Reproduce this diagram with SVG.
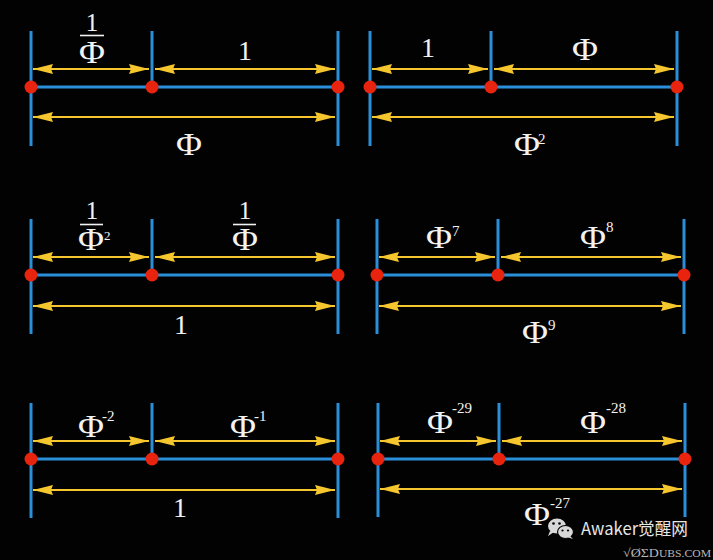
<svg xmlns="http://www.w3.org/2000/svg" width="713" height="560" viewBox="0 0 713 560">
<defs>
<style>
.v{stroke:#2a8fd8;stroke-width:3;fill:none}
.h{stroke:#2a8fd8;stroke-width:3;fill:none}
.d{fill:#e8240f}
.a{stroke:#f6c62e;stroke-width:2;fill:none;marker-start:url(#ah);marker-end:url(#ah)}
.t{font-family:"Liberation Serif","DejaVu Serif",serif;font-size:28px;fill:#f2f2f2}
.p{font-family:"Liberation Serif","DejaVu Serif",serif;font-size:31px;fill:#f2f2f2}
.f{font-family:"Liberation Serif","DejaVu Serif",serif;font-size:25px;fill:#f2f2f2}
.s{font-family:"Liberation Serif","DejaVu Serif",serif;font-size:15px;fill:#f2f2f2}
.bar{stroke:#f2f2f2;stroke-width:1.6}
</style>
<marker id="ah" viewBox="0 0 20 10" refX="20" refY="5" markerWidth="20" markerHeight="10" markerUnits="userSpaceOnUse" orient="auto-start-reverse">
<path d="M0,0 L20,5 L0,10 L2,5 z" fill="#f6c62e"/>
</marker>
</defs>
<rect width="713" height="560" fill="#020202"/>

<g id="connectors">
<line class="a" x1="33" y1="69" x2="149" y2="69"/>
<line class="a" x1="155" y1="69" x2="335" y2="69"/>
<line class="a" x1="33" y1="117" x2="335" y2="117"/>
<line class="a" x1="372" y1="69" x2="488" y2="69"/>
<line class="a" x1="494" y1="69" x2="674" y2="69"/>
<line class="a" x1="372" y1="117" x2="674" y2="117"/>
<line class="a" x1="33" y1="257" x2="149" y2="257"/>
<line class="a" x1="155" y1="257" x2="335" y2="257"/>
<line class="a" x1="33" y1="306" x2="335" y2="306"/>
<line class="a" x1="379" y1="257" x2="495" y2="257"/>
<line class="a" x1="501" y1="257" x2="681" y2="257"/>
<line class="a" x1="379" y1="306" x2="681" y2="306"/>
<line class="a" x1="33" y1="441" x2="149" y2="441"/>
<line class="a" x1="155" y1="441" x2="335" y2="441"/>
<line class="a" x1="33" y1="490" x2="335" y2="490"/>
<line class="a" x1="380" y1="441" x2="496" y2="441"/>
<line class="a" x1="502" y1="441" x2="682" y2="441"/>
<line class="a" x1="380" y1="489" x2="682" y2="489"/>
</g>

<g id="panel1">
<line class="v" x1="31" y1="31" x2="31" y2="146"/>
<line class="v" x1="152" y1="31" x2="152" y2="87"/>
<line class="v" x1="338" y1="31" x2="338" y2="146"/>
<line class="h" x1="31" y1="87" x2="338" y2="87"/>
<circle class="d" cx="31" cy="87" r="6.5"/>
<circle class="d" cx="152" cy="87" r="6.5"/>
<circle class="d" cx="338" cy="87" r="6.5"/>
<text class="f" x="92" y="31" text-anchor="middle">1</text>
<line class="bar" x1="80" y1="35.5" x2="104" y2="35.5"/>
<text class="p" x="92" y="63" text-anchor="middle" textLength="26" lengthAdjust="spacingAndGlyphs">Φ</text>
<text class="t" x="245" y="60" text-anchor="middle">1</text>
<text class="p" x="189" y="155" text-anchor="middle" textLength="26" lengthAdjust="spacingAndGlyphs">Φ</text>
</g>

<g id="panel2">
<line class="v" x1="370" y1="31" x2="370" y2="146"/>
<line class="v" x1="491" y1="31" x2="491" y2="87"/>
<line class="v" x1="677" y1="31" x2="677" y2="146"/>
<line class="h" x1="370" y1="87" x2="677" y2="87"/>
<circle class="d" cx="370" cy="87" r="6.5"/>
<circle class="d" cx="491" cy="87" r="6.5"/>
<circle class="d" cx="677" cy="87" r="6.5"/>
<text class="t" x="428" y="57" text-anchor="middle">1</text>
<text class="p" x="585" y="60" text-anchor="middle" textLength="26" lengthAdjust="spacingAndGlyphs">Φ</text>
<text class="p" x="527" y="155" text-anchor="middle" textLength="26" lengthAdjust="spacingAndGlyphs">Φ</text>
<text class="s" x="538" y="144">2</text>
</g>

<g id="panel3">
<line class="v" x1="31" y1="219" x2="31" y2="334"/>
<line class="v" x1="152" y1="219" x2="152" y2="275"/>
<line class="v" x1="338" y1="219" x2="338" y2="334"/>
<line class="h" x1="31" y1="275" x2="338" y2="275"/>
<circle class="d" cx="31" cy="275" r="6.5"/>
<circle class="d" cx="152" cy="275" r="6.5"/>
<circle class="d" cx="338" cy="275" r="6.5"/>
<text class="f" x="92" y="219" text-anchor="middle">1</text>
<line class="bar" x1="80" y1="224.5" x2="103" y2="224.5"/>
<text class="p" x="91" y="250" text-anchor="middle" textLength="26" lengthAdjust="spacingAndGlyphs">Φ</text>
<text class="s" x="104" y="240" style="font-size:13px">2</text>
<text class="f" x="245" y="219" text-anchor="middle">1</text>
<line class="bar" x1="233" y1="224.5" x2="256" y2="224.5"/>
<text class="p" x="245" y="250" text-anchor="middle" textLength="26" lengthAdjust="spacingAndGlyphs">Φ</text>
<text class="t" x="181" y="334" text-anchor="middle">1</text>
</g>

<g id="panel4">
<line class="v" x1="377" y1="219" x2="377" y2="334"/>
<line class="v" x1="498" y1="219" x2="498" y2="275"/>
<line class="v" x1="684" y1="219" x2="684" y2="334"/>
<line class="h" x1="377" y1="275" x2="684" y2="275"/>
<circle class="d" cx="377" cy="275" r="6.5"/>
<circle class="d" cx="498" cy="275" r="6.5"/>
<circle class="d" cx="684" cy="275" r="6.5"/>
<text class="p" x="439" y="248" text-anchor="middle" textLength="26" lengthAdjust="spacingAndGlyphs">Φ</text>
<text class="s" x="452" y="236">7</text>
<text class="p" x="593" y="248" text-anchor="middle" textLength="26" lengthAdjust="spacingAndGlyphs">Φ</text>
<text class="s" x="606" y="232">8</text>
<text class="p" x="535" y="343" text-anchor="middle" textLength="26" lengthAdjust="spacingAndGlyphs">Φ</text>
<text class="s" x="548" y="330">9</text>
</g>

<g id="panel5">
<line class="v" x1="31" y1="403" x2="31" y2="518"/>
<line class="v" x1="152" y1="403" x2="152" y2="459"/>
<line class="v" x1="338" y1="403" x2="338" y2="518"/>
<line class="h" x1="31" y1="459" x2="338" y2="459"/>
<circle class="d" cx="31" cy="459" r="6.5"/>
<circle class="d" cx="152" cy="459" r="6.5"/>
<circle class="d" cx="338" cy="459" r="6.5"/>
<text class="p" x="91" y="437" text-anchor="middle" textLength="26" lengthAdjust="spacingAndGlyphs">Φ</text>
<text class="s" x="102" y="421">-2</text>
<text class="p" x="243" y="437" text-anchor="middle" textLength="26" lengthAdjust="spacingAndGlyphs">Φ</text>
<text class="s" x="254" y="421">-1</text>
<text class="t" x="180" y="517" text-anchor="middle">1</text>
</g>

<g id="panel6">
<line class="v" x1="378" y1="403" x2="378" y2="517"/>
<line class="v" x1="499" y1="403" x2="499" y2="459"/>
<line class="v" x1="685" y1="403" x2="685" y2="517"/>
<line class="h" x1="378" y1="459" x2="685" y2="459"/>
<circle class="d" cx="378" cy="459" r="6.5"/>
<circle class="d" cx="499" cy="459" r="6.5"/>
<circle class="d" cx="685" cy="459" r="6.5"/>
<text class="p" x="440" y="433" text-anchor="middle" textLength="26" lengthAdjust="spacingAndGlyphs">Φ</text>
<text class="s" x="452" y="413">-29</text>
<text class="p" x="593" y="433" text-anchor="middle" textLength="26" lengthAdjust="spacingAndGlyphs">Φ</text>
<text class="s" x="606" y="413">-28</text>
<text class="p" x="537" y="525" text-anchor="middle" textLength="26" lengthAdjust="spacingAndGlyphs">Φ</text>
<text class="s" x="550" y="508">-27</text>
</g>

<g id="watermark">
<ellipse cx="557" cy="526" rx="9" ry="7.5" fill="#d8d8d8"/>
<path d="M550,531 L548,536 L554,532 z" fill="#d8d8d8"/>
<ellipse cx="565.5" cy="532" rx="8" ry="6.5" fill="#d8d8d8" stroke="#020202" stroke-width="1.2"/>
<path d="M570,536 L573,539 L567,537 z" fill="#d8d8d8"/>
<circle cx="553.5" cy="523.5" r="1.3" fill="#020202"/>
<circle cx="559.5" cy="523.5" r="1.3" fill="#020202"/>
<circle cx="562.5" cy="530.5" r="1.1" fill="#020202"/>
<circle cx="568" cy="530.5" r="1.1" fill="#020202"/>
<text x="581" y="535" style="font-family:'Noto Sans CJK SC','Noto Sans',sans-serif;font-size:17px;fill:#e6e6e6" textLength="107" lengthAdjust="spacingAndGlyphs">Awaker觉醒网</text>
<text x="623" y="557" style="font-family:'Liberation Serif','DejaVu Serif',serif;font-size:10px;fill:#b8b8b8" textLength="88" lengthAdjust="spacingAndGlyphs"><tspan style="font-size:12px">√ØΣD</tspan>UBS.COM</text>
</g>
</svg>
